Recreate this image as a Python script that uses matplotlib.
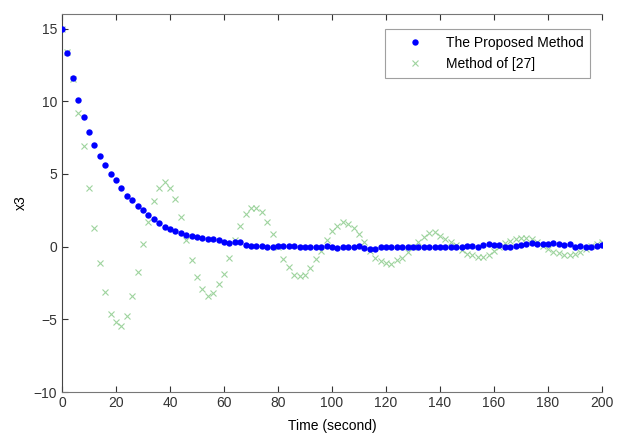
import numpy as np
import matplotlib
matplotlib.use("Agg")
import matplotlib.pyplot as plt

plt.rcParams['font.family'] = ['Liberation Sans', 'DejaVu Sans']

# time samples (every 2 s)
t = np.arange(0, 201, 2)

# x3 of the proposed method
proposed = [15.0, 13.3, 11.6, 10.1, 8.9, 7.9, 7.0, 6.2, 5.6, 5.0,
            4.6, 4.0, 3.5, 3.2, 2.8, 2.5, 2.2, 1.9, 1.6, 1.35,
            1.2, 1.1, 0.95, 0.8, 0.7, 0.65, 0.6, 0.55, 0.55, 0.45,
            0.35, 0.25, 0.3, 0.35, 0.1, 0.05, 0.05, 0.05, 0.0, 0.0,
            0.05, 0.05, 0.05, 0.05, 0.0, 0.0, 0.0, 0.0, 0.0, 0.05,
            -0.05, -0.1, 0.0, 0.0, 0.0, 0.05, -0.1, -0.15, -0.15, 0.0,
            0.0, 0.0, 0.0, 0.0, 0.0, -0.05, -0.05, -0.05, -0.05, -0.05,
            -0.05, -0.05, 0.0, 0.0, 0.0, 0.05, 0.05, 0.0, 0.13, 0.15,
            0.1, 0.08, 0.0, 0.0, 0.02, 0.08, 0.15, 0.23, 0.2, 0.15,
            0.2, 0.23, 0.15, 0.12, 0.15, 0.0, 0.02, 0.0, 0.0, 0.05,
            0.1]

# x3 of the method of [27]
ref27 = [15.0, 13.4, 11.5, 9.2, 6.9, 4.0, 1.3, -1.15, -3.1, -4.65,
         -5.2, -5.45, -4.8, -3.4, -1.75, 0.2, 1.7, 3.15, 4.05, 4.45,
         4.05, 3.25, 2.05, 0.45, -0.9, -2.1, -2.9, -3.4, -3.2, -2.6,
         -1.9, -0.8, 0.45, 1.45, 2.25, 2.65, 2.65, 2.4, 1.7, 0.9,
         0.0, -0.85, -1.4, -1.95, -2.05, -1.95, -1.5, -0.85, -0.3, 0.45,
         1.1, 1.45, 1.7, 1.55, 1.3, 0.9, 0.3, -0.3, -0.8, -1.0,
         -1.15, -1.2, -0.95, -0.75, -0.4, 0.0, 0.35, 0.65, 0.95, 1.0,
         0.75, 0.55, 0.3, 0.1, -0.2, -0.5, -0.6, -0.7, -0.7, -0.55,
         -0.3, -0.05, 0.25, 0.4, 0.55, 0.6, 0.6, 0.55, 0.3, 0.05,
         -0.15, -0.4, -0.45, -0.55, -0.55, -0.5, -0.4, -0.15, 0.05, 0.2,
         0.3]

fig = plt.figure(figsize=(6.23, 4.36), dpi=100)
ax = fig.add_axes([0.0995, 0.1009, 0.8668, 0.8670])

ax.plot(t, proposed, 'o', color='#0000ff', markersize=4.6, markeredgewidth=0,
        label='The Proposed Method', zorder=3)
ax.plot(t, ref27, 'x', color='#86c986', markersize=4.3, markeredgewidth=0.8,
        alpha=0.8, label='Method of [27]', zorder=2)

ax.set_xlim(0, 200)
ax.set_ylim(-10, 16)
ax.set_xticks(np.arange(0, 201, 20))
ax.set_yticks([-10, -5, 0, 5, 10, 15])
ax.set_xlabel('Time (second)', fontsize=10, labelpad=6)
ax.set_ylabel('x3', fontsize=10)

ax.tick_params(direction='in', top=True, right=False, length=4,
               labelsize=10, colors='#333333')
ax.tick_params(axis='x', pad=3)
for side in ['left', 'bottom', 'top']:
    ax.spines[side].set_color('#777777')
ax.spines['left'].set_color('#444444')
ax.spines['right'].set_visible(False)

leg = ax.legend(loc='upper right', bbox_to_anchor=(0.991, 0.979), fancybox=False,
                fontsize=10, handlelength=3.4, handletextpad=0.5,
                borderpad=0.5, labelspacing=0.5)
leg.get_frame().set_edgecolor('#888888')
leg.get_frame().set_linewidth(0.8)

fig.savefig('out.png', dpi=100)
